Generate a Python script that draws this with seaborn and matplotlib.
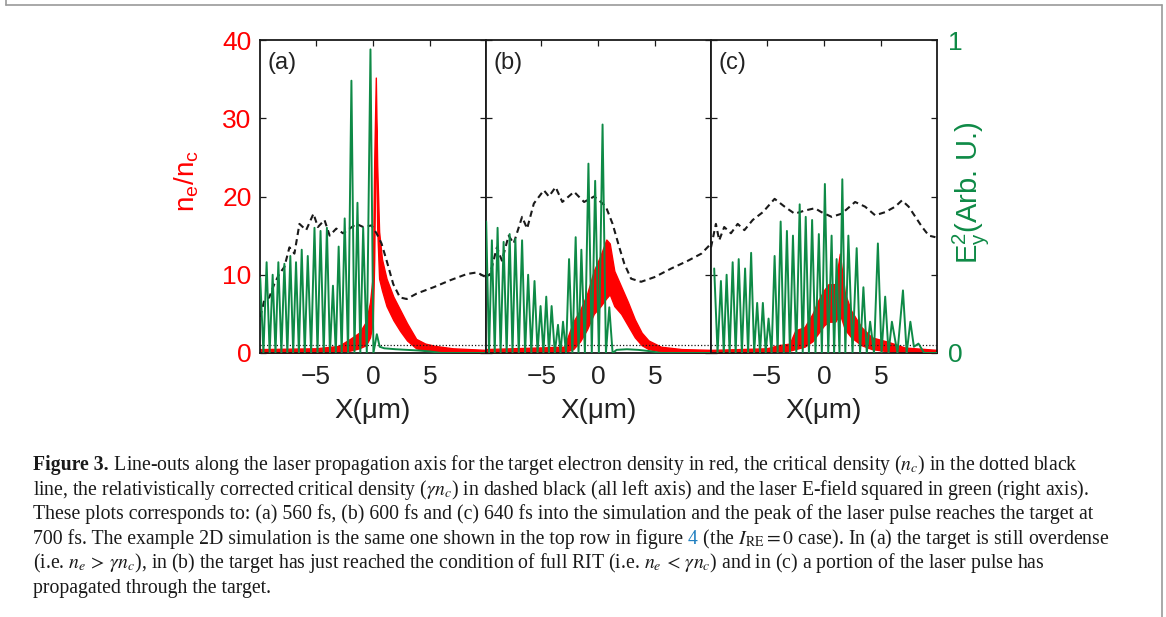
import matplotlib
matplotlib.use("Agg")
import matplotlib.pyplot as plt
import pandas as pd
import seaborn as sns
from matplotlib.lines import Line2D

RED = "#ff0000"
GREEN = "#0e8a46"
INK = "#222222"

X_LIMITS = (-9.9, 9.9)
X_TICKS = [-5, 0, 5]
NE_LIMITS = (0, 40)
NE_TICKS = [0, 10, 20, 30, 40]
E2_TICKS = [0, 1]
PANEL_TAGS = ["(a)", "(b)", "(c)"]
CRITICAL_DENSITY = 1.0

# electron density n_e/n_c : the trace is noisy, so keep its lower and upper edges
NE_X_A = [-9.9, -5.0, -3.0, -2.0, -1.2, -0.6, -0.25, 0.0, 0.12, 0.26, 0.38, 0.55, 0.8, 1.2, 1.8, 2.4, 3.0, 3.8, 4.6, 5.5, 7.0, 9.9]
NE_UP_A = [0.5, 0.6, 0.9, 1.8, 2.6, 4.0, 6.5, 10.0, 24.5, 35.2, 24.0, 15.5, 12.0, 9.5, 7.2, 5.5, 3.8, 1.8, 1.2, 0.9, 0.6, 0.4]
NE_LO_A = [0.0, 0.0, 0.1, 0.3, 0.6, 1.0, 2.0, 4.0, 12.0, 30.0, 16.0, 9.5, 8.0, 6.0, 4.2, 2.8, 1.6, 0.6, 0.3, 0.2, 0.1, 0.0]

NE_X_B = [-9.9, -3.0, -2.2, -1.6, -1.0, -0.4, 0.2, 0.7, 1.0, 1.4, 2.0, 2.6, 3.2, 3.8, 4.4, 5.5, 7.3, 9.9]
NE_UP_B = [0.5, 0.8, 4.0, 5.5, 7.5, 10.5, 12.5, 14.5, 14.0, 10.5, 8.5, 6.5, 4.3, 2.6, 1.6, 0.8, 0.5, 0.4]
NE_LO_B = [0.0, 0.1, 0.5, 1.5, 3.0, 5.0, 6.0, 7.0, 7.5, 6.0, 5.0, 3.5, 2.0, 1.0, 0.5, 0.2, 0.1, 0.0]

NE_X_C = [-9.9, -5.0, -4.0, -3.0, -2.5, -1.7, -1.0, -0.5, 0.0, 0.4, 1.0, 1.4, 1.85, 2.4, 3.3, 4.2, 5.7, 7.1, 9.9]
NE_UP_C = [0.4, 0.6, 1.0, 1.2, 2.9, 3.3, 5.0, 6.7, 8.0, 8.8, 8.8, 12.7, 7.6, 5.4, 3.3, 2.0, 1.4, 0.7, 0.4]
NE_LO_C = [0.0, 0.1, 0.2, 0.3, 0.5, 0.8, 1.5, 2.5, 3.5, 4.0, 4.0, 5.0, 3.0, 2.0, 1.0, 0.5, 0.2, 0.1, 0.0]

# relativistically corrected critical density (gamma n_c), dashed black
GNC_X_A = [-9.88, -9.53, -9.09, -8.65, -8.21, -7.76, -7.32, -6.88, -6.44, -5.85, -5.21, -4.82, -4.24, -3.79, -3.21, -2.62,
           -2.03, -1.44, -0.85, -0.12, 0.32, 0.76, 1.21, 1.79, 2.38, 2.97, 3.85, 5.32, 6.79, 8.26, 9.15, 9.9]
GNC_Y_A = [4.6, 6.7, 7.1, 8.8, 10.1, 11.0, 13.5, 12.7, 16.5, 15.7, 17.8, 16.1, 17.0, 15.0, 15.9, 15.3,
           15.9, 16.5, 16.1, 16.3, 15.3, 14.0, 11.8, 8.8, 7.1, 6.9, 7.6, 8.4, 9.3, 10.1, 10.3, 9.7]

GNC_X_B = [-9.9, -9.49, -8.90, -8.46, -7.87, -7.43, -6.69, -6.25, -5.66, -4.78, -4.34, -3.75, -3.16, -2.13, -1.25, -0.37,
           0.22, 0.66, 1.25, 1.84, 2.28, 2.87, 3.75, 4.93, 6.40, 7.87, 9.04, 9.9]
GNC_Y_B = [9.7, 10.1, 13.5, 11.8, 15.0, 14.0, 17.4, 15.9, 19.1, 20.8, 20.0, 21.2, 19.3, 20.6, 19.3, 20.0,
           19.3, 18.7, 16.5, 13.5, 11.4, 9.5, 9.1, 9.7, 10.8, 11.8, 12.7, 14.0]

GNC_X_C = [-9.9, -9.47, -9.18, -8.74, -8.15, -7.56, -6.97, -6.24, -5.35, -4.32, -3.44, -2.56, -1.68, -0.79, -0.21, 0.68,
           1.56, 2.74, 3.62, 4.50, 5.38, 6.26, 6.85, 7.44, 8.03, 8.62, 9.21, 9.79]
GNC_Y_C = [13.5, 16.5, 14.4, 16.1, 15.3, 16.5, 15.7, 17.0, 18.0, 19.7, 18.7, 17.8, 18.2, 18.5, 18.0, 17.4,
           17.8, 19.3, 18.7, 17.6, 18.0, 18.7, 19.5, 18.7, 17.4, 16.1, 15.0, 14.8]

# laser E_y^2 (right axis): peak positions and heights of the half-cycle spikes, then the weak tail
E2_PEAK_X_A = [-9.88, -9.32, -8.79, -8.29, -7.76, -7.24, -6.74, -6.24, -5.71, -5.12, -4.59, -4.03, -3.50, -3.00, -2.47,
               -1.88, -1.35, -0.85, -0.21]
E2_PEAK_Y_A = [0.24, 0.29, 0.25, 0.29, 0.285, 0.31, 0.29, 0.33, 0.31, 0.40, 0.39, 0.40, 0.215, 0.34, 0.43,
               0.87, 0.48, 0.40, 0.97]
E2_TAIL_X_A = [0.05, 0.35, 0.6, 1.0, 2.0, 3.0, 4.0, 5.0, 6.0, 9.9]
E2_TAIL_Y_A = [0.0, 0.06, 0.02, 0.015, 0.012, 0.01, 0.008, 0.005, 0.0, 0.0]

E2_PEAK_X_B = [-9.84, -9.34, -8.84, -8.31, -7.78, -7.28, -6.69, -6.16, -5.60, -5.07, -4.57, -4.10, -3.54, -3.10, -2.57,
               -1.99, -1.49, -0.87, -0.28, 0.37, 0.96]
E2_PEAK_Y_B = [0.42, 0.36, 0.40, 0.355, 0.38, 0.365, 0.36, 0.25, 0.23, 0.15, 0.18, 0.15, 0.09, 0.10, 0.30,
               0.37, 0.33, 0.605, 0.55, 0.73, 0.146]
E2_TAIL_X_B = [1.25, 1.6, 2.5, 3.5, 4.5, 5.5, 9.9]
E2_TAIL_Y_B = [0.0, 0.01, 0.012, 0.01, 0.006, 0.0, 0.0]

E2_PEAK_X_C = [-9.62, -9.03, -8.53, -8.00, -7.47, -6.91, -6.38, -5.85, -5.35, -4.85, -4.32, -3.79, -3.24, -2.71, -2.12,
               -1.59, -1.03, -0.44, 0.09, 0.68, 1.12, 1.62, 2.15, 2.88, 3.47, 4.06, 4.74, 5.38, 5.97, 6.94, 7.59]
E2_PEAK_Y_C = [0.27, 0.23, 0.25, 0.29, 0.30, 0.27, 0.32, 0.16, 0.16, 0.11, 0.31, 0.42, 0.39, 0.375, 0.475,
               0.435, 0.425, 0.38, 0.54, 0.375, 0.30, 0.555, 0.375, 0.335, 0.21, 0.10, 0.35, 0.18, 0.10, 0.20, 0.10]
E2_TAIL_X_C = [7.9, 8.3, 8.8, 9.9]
E2_TAIL_Y_C = [0.02, 0.03, 0.0, 0.0]

CAPTION = [
    [("Figure 3.", "k", "bold"),
     (r" Line-outs along the laser propagation axis for the target electron density in red, the critical density ($n_c$) in the dotted black", "k", "normal")],
    [(r"line, the relativistically corrected critical density ($\gamma n_c$) in dashed black (all left axis) and the laser E-field squared in green (right axis).", "k", "normal")],
    [("These plots corresponds to: (a) 560 fs, (b) 600 fs and (c) 640 fs into the simulation and the peak of the laser pulse reaches the target at", "k", "normal")],
    [("700 fs. The example 2D simulation is the same one shown in the top row in figure", "k", "normal"),
     (" 4", "#1f7fc0", "normal"),
     (r" (the $I_{\mathrm{RE}}=0$ case). In (a) the target is still overdense", "k", "normal")],
    [(r"(i.e. $n_e\,>\,\gamma n_c$), in (b) the target has just reached the condition of full RIT (i.e. $n_e\,<\,\gamma n_c$) and in (c) a portion of the laser pulse has", "k", "normal")],
    [("propagated through the target.", "k", "normal")],
]


def spike_train(peak_x, peak_y, tail_x, tail_y):
    # field returns to zero between neighbouring half-cycle peaks
    xs, ys = [], []
    for i, (px, py) in enumerate(zip(peak_x, peak_y)):
        if i > 0:
            xs.append((peak_x[i - 1] + px) / 2)
            ys.append(0.0)
        xs.append(px)
        ys.append(py)
    xs += list(tail_x)
    ys += list(tail_y)
    return pd.DataFrame({"x": xs, "E2": ys})


panels = [
    (NE_X_A, NE_UP_A, NE_LO_A, GNC_X_A, GNC_Y_A, spike_train(E2_PEAK_X_A, E2_PEAK_Y_A, E2_TAIL_X_A, E2_TAIL_Y_A)),
    (NE_X_B, NE_UP_B, NE_LO_B, GNC_X_B, GNC_Y_B, spike_train(E2_PEAK_X_B, E2_PEAK_Y_B, E2_TAIL_X_B, E2_TAIL_Y_B)),
    (NE_X_C, NE_UP_C, NE_LO_C, GNC_X_C, GNC_Y_C, spike_train(E2_PEAK_X_C, E2_PEAK_Y_C, E2_TAIL_X_C, E2_TAIL_Y_C)),
]

sns.set_theme(style="white")
plt.rcParams["font.family"] = ["Liberation Sans", "DejaVu Sans"]
plt.rcParams["axes.unicode_minus"] = True

W, H = 1166, 617
fig = plt.figure(figsize=(W / 100, H / 100), dpi=100)

# page frame (open at the bottom)
for xs, ys in [((6, 6), (0, 5)), ((6, 1162), (5, 5)), ((1162, 1162), (5, 617))]:
    fig.add_artist(Line2D([x / W for x in xs], [1 - y / H for y in ys], color="#9a9a9a", lw=1.2))

ax_left_px = [260, 485.5, 711]
ax_w_px, ax_top_px, ax_bot_px = 225.7, 40, 353

for i, (nx, nup, nlo, gx, gy, e2) in enumerate(panels):
    ax = fig.add_axes([ax_left_px[i] / W, 1 - ax_bot_px / H, ax_w_px / W, (ax_bot_px - ax_top_px) / H])
    tw = ax.twinx()

    ax.fill_between(nx, nlo, nup, color=RED, edgecolor=RED, lw=1.0)
    ax.axhline(CRITICAL_DENSITY, color="k", lw=0.9, linestyle=(0, (1, 1.6)))
    sns.lineplot(x=gx, y=gy, ax=ax, color="k", lw=1.5, linestyle=(0, (3, 2)), estimator=None, sort=False)
    sns.lineplot(data=e2, x="x", y="E2", ax=tw, color=GREEN, lw=1.4, estimator=None, sort=False)

    ax.set_xlim(*X_LIMITS)
    ax.set_ylim(*NE_LIMITS)
    tw.set_ylim(0, 1)
    ax.set_xticks(X_TICKS)
    ax.set_yticks(NE_TICKS)
    ax.tick_params(direction="in", length=4, width=0.9, color="k", top=True, right=True,
                   labelsize=19, pad=6)
    ax.tick_params(axis="x", labelcolor=INK, pad=9)
    ax.tick_params(axis="y", labelcolor=RED, labelleft=(i == 0))
    for s in ax.spines.values():
        s.set_color("k")
        s.set_linewidth(1.3)
    for s in tw.spines.values():
        s.set_visible(False)

    ax.set_xlabel("X(μm)", fontsize=20, color=INK, labelpad=6)
    ax.set_ylabel("")
    ax.text(0.035, 0.925, PANEL_TAGS[i], transform=ax.transAxes, fontsize=17, color=INK,
            ha="left", va="center")

    if i == 0:
        ax.set_ylabel(r"n$_{\mathregular{e}}$/n$_{\mathregular{c}}$", fontsize=20, color=RED)
        ax.yaxis.set_label_coords(-0.26, 0.55)
    if i == 2:
        tw.set_yticks(E2_TICKS)
        tw.tick_params(axis="y", length=0, labelsize=19, labelcolor=GREEN, pad=8)
        tw.set_ylabel(r"E$_{\mathregular{y}}^{\mathregular{2}}$(Arb. U.)", fontsize=21, color=GREEN)
        tw.yaxis.set_label_coords(1.06, 0.51)
    else:
        tw.set_yticks([])
        tw.set_ylabel("")

# caption, one text run per colour / weight, laid out left to right
renderer = fig.canvas.get_renderer()
for row, segments in enumerate(CAPTION):
    x_px = 33
    y_px = 470 + 24.6 * row
    for text, colour, weight in segments:
        t = fig.text(x_px / W, 1 - y_px / H, text, fontsize=14.2, color=colour, fontweight=weight,
                     family=["Liberation Serif", "DejaVu Serif"], math_fontfamily="stix",
                     ha="left", va="baseline")
        x_px += t.get_window_extent(renderer).width

fig.savefig("out.png", dpi=100)
